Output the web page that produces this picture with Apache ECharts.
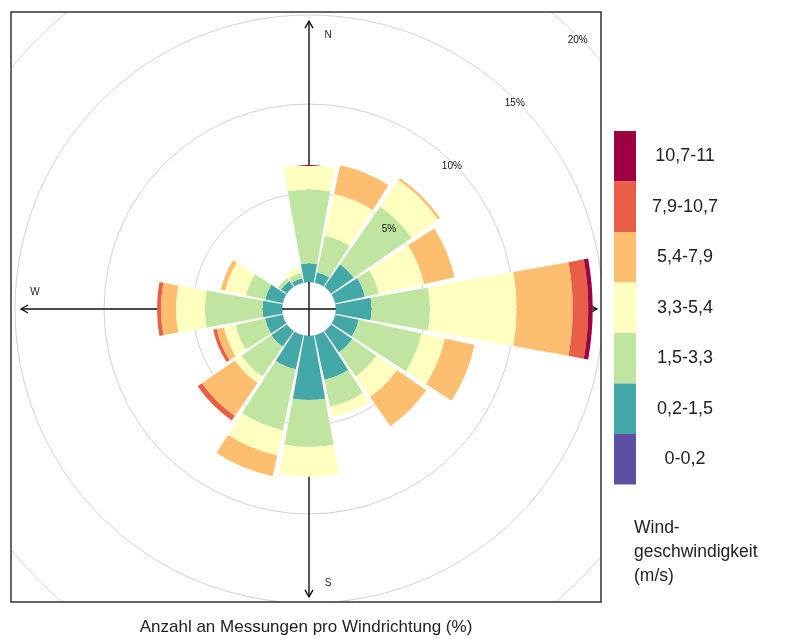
<!DOCTYPE html>
<html>
<head>
<meta charset="utf-8">
<script src="https://cdn.jsdelivr.net/npm/echarts@6/dist/echarts.min.js"></script>
<style>
  html, body { margin: 0; padding: 0; background: #fff; }
  #chart { width: 787px; height: 639px; }
</style>
</head>
<body>
<div id="chart"></div>
<script>
// Wind directions, clockwise from north
const directions = ['N', 'NNE', 'NE', 'ENE', 'E', 'ESE', 'SE', 'SSE', 'S', 'SSW', 'SW', 'WSW', 'W', 'WNW', 'NW', 'NNW'];
// Wind speed classes (m/s), from calm to strongest
const speedClasses = ['0-0,2', '0,2-1,5', '1,5-3,3', '3,3-5,4', '5,4-7,9', '7,9-10,7', '10,7-11'];

// Share of all measurements (%) per direction, one array per speed class
const speed0_02   = [0, 0, 0, 0, 0, 0, 0, 0, 0, 0, 0, 0, 0, 0, 0, 0];
const speed02_15  = [1.05, 0.6, 1.55, 1.7, 2.0, 1.35, 1.45, 2.55, 3.6, 1.95, 1.07, 1.02, 1.1, 1.0, 0.4, 0.25];
const speed15_33  = [4.15, 2.1, 3.95, 0.8, 3.28, 3.6, 1.65, 1.55, 2.64, 3.5, 2.03, 1.68, 3.23, 1.1, 0.2, 0.3];
const speed33_54  = [1.35, 2.4, 1.8, 2.6, 4.87, 1.35, 1.4, 0.6, 1.66, 1.45, 0.45, 0.68, 1.62, 1.2, 0, 0.3];
const speed54_79  = [0, 1.65, 0.15, 1.75, 3.15, 1.7, 2.0, 0, 0, 1.2, 2.25, 0.42, 0.85, 0.25, 0, 0];
const speed79_107 = [0, 0, 0, 0, 0.87, 0, 0, 0, 0, 0, 0.3, 0.19, 0.22, 0, 0, 0];
const speed107_11 = [0, 0, 0, 0, 0.25, 0, 0, 0, 0, 0, 0, 0, 0, 0, 0, 0];

// Spectral palette, one colour per speed class
const classColors = ['#5E4FA2', '#45A8A8', '#BFE5A0', '#FFFFBF', '#FDBF6F', '#EA5D47', '#9E0142'];

// Percentage rings and their labels
const radiusTicks = [5, 10, 15, 20];
const radiusTickLabels = ['5%', '10%', '15%', '20%'];

// Compass arrows: label and direction
const compassLabels = ['N', '', 'S', 'W'];
const compassDirs = ['N', 'E', 'S', 'W'];
const compassReach = 14.66; // arrow length, in % of the radial scale

const classValues = [speed0_02, speed02_15, speed15_33, speed33_54, speed54_79, speed79_107, speed107_11];

const FONT = '"Liberation Sans", Arial, sans-serif';

const barSeries = classValues.map((vals, i) => ({
  type: 'bar',
  name: speedClasses[i],
  coordinateSystem: 'polar',
  stack: 'wind',
  data: vals,
  barCategoryGap: '9%',
  itemStyle: { color: classColors[i] },
  emphasis: { disabled: true },
  silent: true,
  z: 3
}));

// Compass arrows drawn beneath the bars
const compassSeries = {
  type: 'custom',
  coordinateSystem: 'polar',
  silent: true,
  z: 1,
  data: compassDirs.map((d, i) => [compassReach, directions.indexOf(d), i]),
  encode: { radius: 0, angle: 1 },
  renderItem(params, api) {
    const cs = params.coordSys;
    const tip = api.coord([api.value(0), api.value(1)]);
    const cx = cs.cx, cy = cs.cy;
    const dx = tip[0] - cx, dy = tip[1] - cy;
    const len = Math.sqrt(dx * dx + dy * dy);
    const ux = dx / len, uy = dy / len;
    const nx = -uy, ny = ux;
    const head = 7, half = 4;
    const vertical = Math.abs(uy) > 0.5;
    const label = compassLabels[api.value(2)];
    const lx = tip[0] - ux * 14 + (vertical ? 19 : 0);
    const ly = tip[1] - uy * 14 + (vertical ? 0 : -17);
    const children = [
      { type: 'line', shape: { x1: cx, y1: cy, x2: tip[0], y2: tip[1] },
        style: { stroke: '#111', lineWidth: 1.4 } },
      { type: 'polyline', shape: { points: [
          [tip[0] - ux * head + nx * half, tip[1] - uy * head + ny * half],
          [tip[0], tip[1]],
          [tip[0] - ux * head - nx * half, tip[1] - uy * head - ny * half]
        ] }, style: { stroke: '#111', lineWidth: 1.4, fill: null } }
    ];
    if (label) {
      children.push({ type: 'text', x: lx, y: ly,
        style: { text: label, font: '10px ' + FONT, fill: '#222', align: 'center', verticalAlign: 'middle' } });
    }
    return { type: 'group', children };
  }
};

// Ring labels placed along the north-east ray
const ringLabelSeries = {
  type: 'custom',
  coordinateSystem: 'polar',
  silent: true,
  z: 5,
  data: radiusTicks.map((t, i) => [t, directions.indexOf('NE'), i]),
  encode: { radius: 0, angle: 1 },
  renderItem(params, api) {
    const cs = params.coordSys;
    const p = api.coord([api.value(0), api.value(1)]);
    const dx = p[0] - cs.cx, dy = p[1] - cs.cy;
    const len = Math.sqrt(dx * dx + dy * dy);
    const inset = 3;
    return {
      type: 'text',
      x: p[0] - dx / len * inset,
      y: p[1] - dy / len * inset,
      style: { text: radiusTickLabels[api.value(2)], font: '10px ' + FONT, fill: '#111',
               align: 'center', verticalAlign: 'middle' }
    };
  }
};

const chart = echarts.init(document.getElementById('chart'), null, { renderer: 'canvas' });
chart.setOption({
  animation: false,
  backgroundColor: '#fff',
  polar: { center: [309, 309], radius: [27, 383] },
  angleAxis: {
    type: 'category',
    data: directions,
    startAngle: 90 + 360 / directions.length / 2,
    clockwise: true,
    boundaryGap: true,
    axisLine: { show: false },
    axisTick: { show: false },
    axisLabel: { show: false },
    splitLine: { show: false }
  },
  radiusAxis: {
    type: 'value',
    min: 0,
    max: 20,
    interval: 5,
    axisLine: { show: false },
    axisTick: { show: false },
    axisLabel: { show: false },
    splitLine: { show: true, showMinLine: false, lineStyle: { color: '#d2d2d2', width: 1 } },
    z: 0
  },
  legend: {
    orient: 'vertical',
    left: 614,
    top: 131,
    padding: 0,
    itemWidth: 22,
    itemHeight: 50.5,
    itemGap: 0,
    icon: 'rect',
    selectedMode: false,
    z: 20,
    data: speedClasses.slice().reverse(),
    formatter: name => '{c|' + name + '}',
    textStyle: {
      rich: { c: { width: 88, align: 'center', fontSize: 18, color: '#222', fontFamily: FONT } }
    }
  },
  graphic: [
    // white surround keeps the outer ring inside the plot frame
    { type: 'rect', z: 10, silent: true, shape: { x: 0, y: 0, width: 787, height: 12 }, style: { fill: '#fff' } },
    { type: 'rect', z: 10, silent: true, shape: { x: 0, y: 0, width: 11, height: 639 }, style: { fill: '#fff' } },
    { type: 'rect', z: 10, silent: true, shape: { x: 601, y: 0, width: 186, height: 639 }, style: { fill: '#fff' } },
    { type: 'rect', z: 10, silent: true, shape: { x: 0, y: 602, width: 787, height: 37 }, style: { fill: '#fff' } },
    { type: 'rect', z: 11, silent: true, shape: { x: 11, y: 12, width: 590, height: 590 },
      style: { fill: null, stroke: '#333', lineWidth: 1.5 } },
    { type: 'text', z: 12, silent: true, x: 306, y: 627,
      style: { text: 'Anzahl an Messungen pro Windrichtung (%)', font: '17px ' + FONT, fill: '#222',
               align: 'center', verticalAlign: 'middle' } },
    { type: 'text', z: 12, silent: true, x: 634, y: 516,
      style: { text: 'Wind-\ngeschwindigkeit\n(m/s)', font: '17.5px ' + FONT, fill: '#222',
               lineHeight: 24, align: 'left', verticalAlign: 'top' } }
  ],
  series: [compassSeries].concat(barSeries, [ringLabelSeries])
});
</script>
</body>
</html>
